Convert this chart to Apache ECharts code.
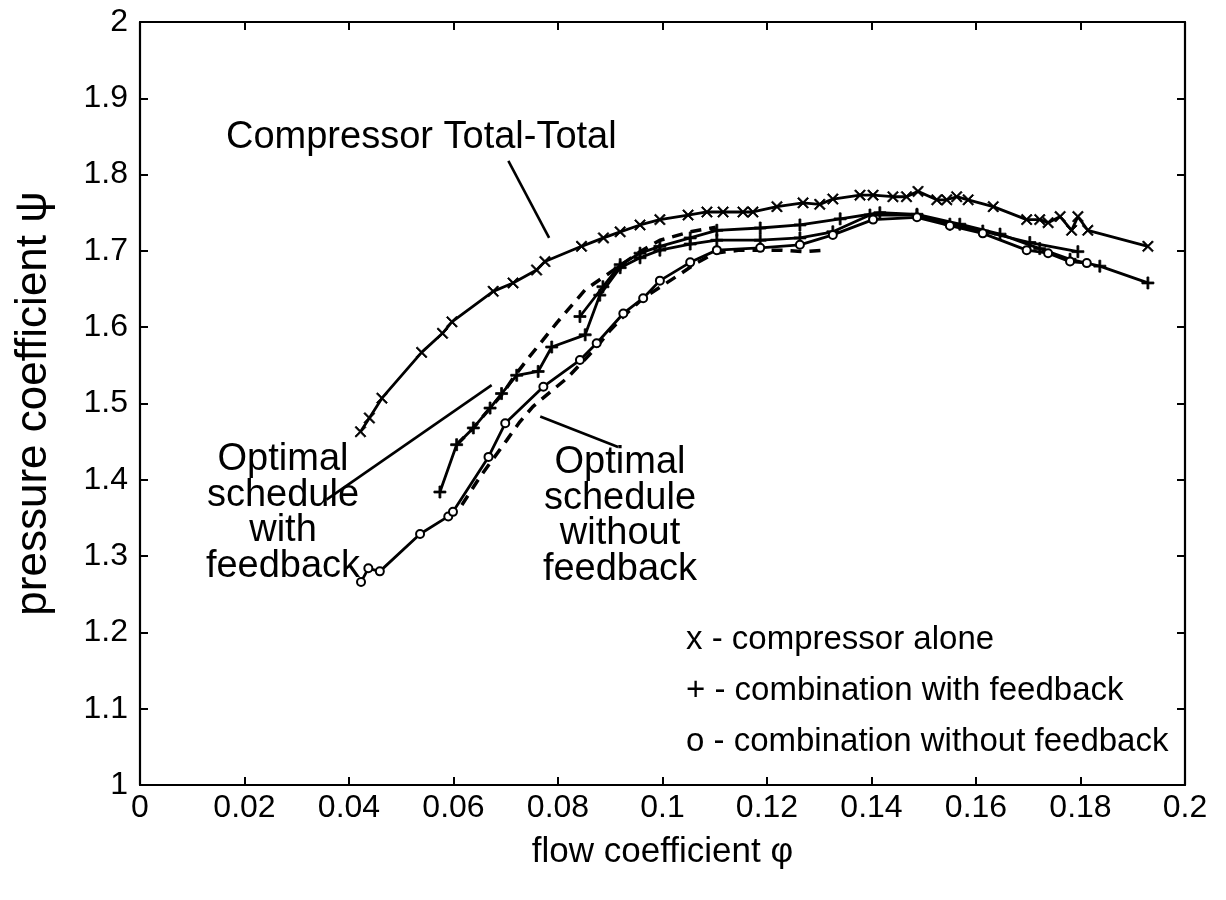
<!DOCTYPE html>
<html>
<head>
<meta charset="utf-8">
<script src="https://cdn.jsdelivr.net/npm/echarts@6/dist/echarts.min.js"></script>
<style>
  html, body { margin: 0; padding: 0; background: #fff; }
  #chart { width: 1226px; height: 900px; }
</style>
</head>
<body>
<div id="chart"></div>
<script>
// ---- axis ticks ----
const xTickLabels = ['0', '0.02', '0.04', '0.06', '0.08', '0.1', '0.12', '0.14', '0.16', '0.18', '0.2'];
const yTickLabels = ['1', '1.1', '1.2', '1.3', '1.4', '1.5', '1.6', '1.7', '1.8', '1.9', '2'];

// ---- compressor alone (x) ----
const compPhi = [0.0422, 0.0439, 0.0463, 0.0539, 0.0579, 0.0597, 0.0676, 0.0714, 0.0759, 0.0775, 0.0845, 0.0887,
  0.0919, 0.0957, 0.0995, 0.1049, 0.1085, 0.1116, 0.1154, 0.1173, 0.1219, 0.1269, 0.1301, 0.1326, 0.1378, 0.1403,
  0.1441, 0.1467, 0.1489, 0.1525, 0.1544, 0.1563, 0.1585, 0.1633, 0.1697, 0.1722, 0.1738, 0.1761, 0.1783, 0.1795,
  0.1814, 0.1929];
const compPsi = [1.463, 1.481, 1.507, 1.567, 1.592, 1.607, 1.647, 1.658, 1.675, 1.686, 1.706, 1.717,
  1.725, 1.734, 1.741, 1.747, 1.751, 1.751, 1.751, 1.751, 1.758, 1.763, 1.761, 1.768, 1.773, 1.773,
  1.771, 1.771, 1.778, 1.767, 1.767, 1.771, 1.767, 1.758, 1.741, 1.741, 1.737, 1.745, 1.727, 1.745,
  1.727, 1.706];

// ---- combination with feedback (+), first run ----
const fbPhiA = [0.0574, 0.0606, 0.0638, 0.0670, 0.0692, 0.0721, 0.0762, 0.0788, 0.0852, 0.0880, 0.0919, 0.0957,
  0.0995, 0.1053, 0.1104, 0.1187, 0.1263, 0.1326, 0.1397, 0.1487, 0.1550, 0.1613, 0.1703, 0.1795];
const fbPsiA = [1.384, 1.446, 1.468, 1.494, 1.513, 1.537, 1.542, 1.574, 1.590, 1.642, 1.678, 1.691,
  1.701, 1.709, 1.714, 1.714, 1.717, 1.725, 1.747, 1.747, 1.735, 1.726, 1.711, 1.699];

// ---- combination with feedback (+), second run ----
const fbPhiB = [0.0842, 0.0886, 0.0919, 0.0957, 0.0995, 0.1053, 0.1104, 0.1187, 0.1263, 0.1340, 0.1416, 0.1487,
  0.1569, 0.1646, 0.1722, 0.1780, 0.1837, 0.1929];
const fbPsiB = [1.614, 1.653, 1.682, 1.697, 1.706, 1.717, 1.727, 1.730, 1.734, 1.742, 1.750, 1.748,
  1.735, 1.722, 1.703, 1.689, 1.680, 1.658];

// ---- combination without feedback (o) ----
const nfPhi = [0.0423, 0.0437, 0.0459, 0.0536, 0.0590, 0.0599, 0.0667, 0.0699, 0.0772, 0.0842, 0.0874, 0.0925,
  0.0963, 0.0995, 0.1053, 0.1104, 0.1187, 0.1263, 0.1326, 0.1403, 0.1487, 0.1550, 0.1613, 0.1697, 0.1738,
  0.1780, 0.1812];
const nfPsi = [1.266, 1.284, 1.280, 1.329, 1.352, 1.358, 1.430, 1.474, 1.522, 1.557, 1.579, 1.618,
  1.638, 1.661, 1.685, 1.701, 1.704, 1.708, 1.721, 1.741, 1.744, 1.733, 1.723, 1.701, 1.697,
  1.686, 1.684];

// ---- optimal schedule with feedback (dashed) ----
const optFbPhi = [0.0606, 0.0638, 0.0670, 0.0692, 0.0718, 0.0745, 0.0771, 0.0798, 0.0823, 0.0852, 0.0957, 0.0995,
  0.1053, 0.1102];
const optFbPsi = [1.446, 1.468, 1.494, 1.511, 1.537, 1.561, 1.583, 1.606, 1.626, 1.649, 1.699, 1.714,
  1.725, 1.731];

// ---- optimal schedule without feedback (dashed) ----
const optNfPhi = [0.0616, 0.0651, 0.0702, 0.0727, 0.0752, 0.0785, 0.0817, 0.0874, 0.0900, 0.0931, 0.0963, 0.1030,
  0.1065, 0.1100, 0.1148, 0.1187, 0.1228, 0.1273, 0.1313];
const optNfPsi = [1.367, 1.404, 1.452, 1.476, 1.496, 1.515, 1.533, 1.574, 1.596, 1.618, 1.638, 1.668,
  1.684, 1.697, 1.701, 1.701, 1.701, 1.699, 1.701];

// ---- annotation leader lines (phi, psi end points) ----
const leaderCompPhi = [0.0705, 0.0783];
const leaderCompPsi = [1.818, 1.717];
const leaderFbPhi = [0.0357, 0.0673];
const leaderFbPsi = [1.374, 1.524];
const leaderNfPhi = [0.0766, 0.0915];
const leaderNfPsi = [1.483, 1.443];

const zip = (a, b) => a.map((v, i) => [v, b[i]]);

const FONT = "'Liberation Sans', Arial, Helvetica, sans-serif";
const INK = '#000';

const crossSymbol = 'path://M1,0 L5,4 L9,0 L10,1 L6,5 L10,9 L9,10 L5,6 L1,10 L0,9 L4,5 L0,1 Z';
const plusSymbol = 'path://M4.2,0 L5.8,0 L5.8,4.2 L10,4.2 L10,5.8 L5.8,5.8 L5.8,10 L4.2,10 L4.2,5.8 L0,5.8 L0,4.2 L4.2,4.2 Z';

const NAME_X = 'x - compressor alone';
const NAME_P = '+ - combination with feedback';
const NAME_O = 'o - combination without feedback';

function dataSeries(name, data, symbol, size, border) {
  return {
    name: name,
    type: 'line',
    data: data,
    symbol: symbol,
    symbolSize: size,
    showSymbol: true,
    color: INK,
    lineStyle: { color: INK, width: 2.8 },
    itemStyle: { color: INK, borderColor: INK, borderWidth: border },
    animation: false,
    silent: true,
    z: 3
  };
}

function dashedSeries(name, data) {
  return {
    name: name,
    type: 'line',
    data: data,
    symbol: 'none',
    lineStyle: { color: INK, width: 3.5, type: [11, 8] },
    animation: false,
    silent: true,
    z: 2
  };
}

function leaderSeries(data) {
  return {
    type: 'line',
    data: data,
    symbol: 'none',
    lineStyle: { color: INK, width: 2.6 },
    animation: false,
    silent: true,
    z: 2
  };
}

const chart = echarts.init(document.getElementById('chart'), null, { renderer: 'canvas' });

const axisCommon = {
  type: 'value',
  splitLine: { show: false },
  axisLine: { show: true, onZero: false, lineStyle: { color: INK, width: 2.2 } },
  axisTick: { show: true, inside: true, length: 8, lineStyle: { color: INK, width: 2 } }
};

chart.setOption({
  backgroundColor: '#fff',
  animation: false,
  grid: { left: 140, right: 41, top: 22, bottom: 115, containLabel: false },
  xAxis: [
    Object.assign({}, axisCommon, {
      min: 0, max: 0.2, interval: 0.02, position: 'bottom',
      axisLabel: {
        color: INK, fontSize: 32, fontFamily: FONT, margin: 7,
        formatter: (v) => xTickLabels[Math.round(v / 0.02)]
      },
      name: 'flow coefficient φ', nameLocation: 'middle', nameGap: 50,
      nameTextStyle: { color: INK, fontSize: 35, fontFamily: FONT }
    }),
    Object.assign({}, axisCommon, {
      min: 0, max: 0.2, interval: 0.02, position: 'top',
      axisLabel: { show: false }
    })
  ],
  yAxis: [
    Object.assign({}, axisCommon, {
      min: 1, max: 2, interval: 0.1, position: 'left',
      axisLabel: {
        color: INK, fontSize: 32, fontFamily: FONT, margin: 12,
        formatter: (v) => yTickLabels[Math.round((v - 1) / 0.1)]
      },
      name: 'pressure coefficient ψ', nameLocation: 'middle', nameGap: 84, nameRotate: 90,
      nameTextStyle: { color: INK, fontSize: 44, fontFamily: FONT }
    }),
    Object.assign({}, axisCommon, {
      min: 1, max: 2, interval: 0.1, position: 'right',
      axisLabel: { show: false }
    })
  ],
  legend: {
    data: [NAME_X, NAME_P, NAME_O],
    orient: 'vertical',
    left: 676, top: 618,
    itemGap: 18,
    itemWidth: 0, itemHeight: 0,
    icon: 'none',
    selectedMode: false,
    textStyle: { color: INK, fontSize: 33, fontFamily: FONT, lineHeight: 33 }
  },
  graphic: [
    {
      type: 'text', left: 226, top: 119,
      style: { text: 'Compressor Total-Total', fill: INK, font: '38px ' + FONT }
    },
    {
      type: 'text', x: 283, y: 442,
      style: {
        text: 'Optimal\nschedule\nwith\nfeedback', fill: INK, font: '38px ' + FONT,
        align: 'center', lineHeight: 35.5
      }
    },
    {
      type: 'text', x: 620, y: 445,
      style: {
        text: 'Optimal\nschedule\nwithout\nfeedback', fill: INK, font: '38px ' + FONT,
        align: 'center', lineHeight: 35.5
      }
    }
  ],
  series: [
    dashedSeries('optimal with feedback', zip(optFbPhi, optFbPsi)),
    dashedSeries('optimal without feedback', zip(optNfPhi, optNfPsi)),
    dataSeries(NAME_X, zip(compPhi, compPsi), crossSymbol, 11, 0.8),
    dataSeries(NAME_P, zip(fbPhiA, fbPsiA), plusSymbol, 12, 0.8),
    dataSeries(NAME_P, zip(fbPhiB, fbPsiB), plusSymbol, 12, 0.8),
    dataSeries(NAME_O, zip(nfPhi, nfPsi), 'emptyCircle', 8, 2),
    leaderSeries(zip(leaderCompPhi, leaderCompPsi)),
    leaderSeries(zip(leaderFbPhi, leaderFbPsi)),
    leaderSeries(zip(leaderNfPhi, leaderNfPsi))
  ]
});
</script>
</body>
</html>
